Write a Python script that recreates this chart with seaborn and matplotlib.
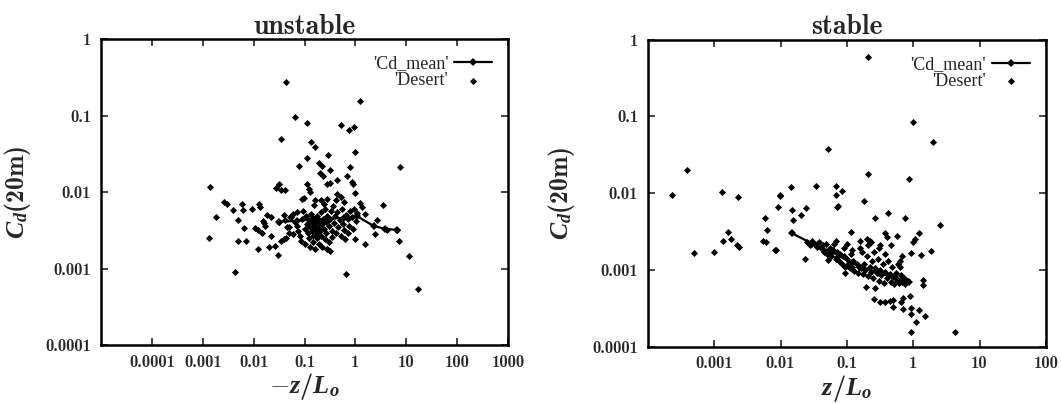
import numpy as np
import pandas as pd
import matplotlib
matplotlib.use('Agg')
import matplotlib.pyplot as plt
import seaborn as sns
from matplotlib.ticker import FixedLocator, FixedFormatter, NullLocator

# unstable case: -z/Lo vs Cd(20m)
unstable_desert = [
    (0.044, 0.278), (1.22, 0.154), (0.066, 0.097), (0.113, 0.079), (0.52, 0.076), (0.75, 0.065),
    (0.95, 0.071), (0.035, 0.050), (0.133, 0.045), (0.16, 0.039),
    (0.113, 0.028), (0.296, 0.031), (0.97, 0.033), (0.077, 0.022), (0.19, 0.024), (0.22, 0.022),
    (0.31, 0.0195), (0.80, 0.021), (7.4, 0.0216),
    (0.20, 0.0177), (0.23, 0.016), (0.28, 0.0129), (0.32, 0.0131), (0.44, 0.0145), (0.69, 0.016),
    (0.86, 0.0135), (0.90, 0.0126),
    (0.032, 0.0129), (0.028, 0.0114), (0.035, 0.0107), (0.041, 0.0107), (0.113, 0.0129), (0.122, 0.011),
    (0.131, 0.010), (0.0014, 0.0116),
    (1.0, 0.0097), (0.44, 0.0095), (0.53, 0.0086), (0.59, 0.0074), (0.42, 0.0078), (0.28, 0.0082),
    (0.24, 0.0070), (0.21, 0.0078), (0.164, 0.0078), (0.152, 0.0067), (0.090, 0.0082), (0.096, 0.0084),
    (3.5, 0.0068),
    (0.0026, 0.0074), (0.0030, 0.0069), (0.0039, 0.0059), (0.0060, 0.0069), (0.0063, 0.0059),
    (0.0094, 0.0061), (0.0127, 0.0070), (0.0133, 0.0064),
    (0.0018, 0.0047), (0.0050, 0.0043), (0.0185, 0.0050), (0.0216, 0.0047), (0.0152, 0.0042),
    (0.0159, 0.0039), (0.0065, 0.0034), (0.0106, 0.0034), (0.0122, 0.0032), (0.0164, 0.0036),
    (0.0148, 0.0029), (0.0216, 0.0027),
    (0.0013, 0.0025), (0.0050, 0.0023), (0.0072, 0.0023), (0.0122, 0.0018), (0.020, 0.0019),
    (0.026, 0.0020), (0.030, 0.0015), (0.034, 0.0023), (0.039, 0.0024), (0.044, 0.0025),
    (0.049, 0.0035), (0.031, 0.0041), (0.042, 0.0043), (0.053, 0.0047), (0.072, 0.0055),
    (1.0, 0.0024), (1.57, 0.0021), (2.4, 0.0028), (4.2, 0.0032), (6.6, 0.0032), (7.1, 0.0023),
    (1.57, 0.0052), (1.22, 0.0071), (1.35, 0.0064), (2.66, 0.0043), (0.28, 0.0018), (0.32, 0.0017),
    (0.0043, 0.00091), (0.65, 0.00084), (17.2, 0.00054), (11.1, 0.00145),
    # dense cluster around 0.1-1
    (0.06, 0.0052), (0.065, 0.0041), (0.07, 0.0036), (0.075, 0.0031), (0.08, 0.0027), (0.085, 0.0023),
    (0.09, 0.0045), (0.095, 0.0057), (0.10, 0.0033), (0.10, 0.0021), (0.105, 0.0048), (0.11, 0.0038),
    (0.115, 0.0029), (0.12, 0.0025), (0.12, 0.0043), (0.13, 0.0035), (0.13, 0.0019), (0.135, 0.0052),
    (0.14, 0.0031), (0.14, 0.0041), (0.145, 0.0027), (0.15, 0.0046), (0.15, 0.0022), (0.155, 0.0036),
    (0.16, 0.0018), (0.16, 0.0033), (0.165, 0.0043), (0.17, 0.0039), (0.175, 0.0029), (0.18, 0.0025),
    (0.18, 0.0048), (0.19, 0.0035), (0.19, 0.0021), (0.20, 0.0042), (0.20, 0.0031), (0.21, 0.0055),
    (0.21, 0.0027), (0.22, 0.0038), (0.22, 0.0019), (0.23, 0.0045), (0.24, 0.0033), (0.25, 0.0024),
    (0.25, 0.0061), (0.26, 0.0041), (0.27, 0.0029), (0.28, 0.0049), (0.28, 0.0018), (0.30, 0.0036),
    (0.30, 0.0022), (0.32, 0.0044), (0.33, 0.0056), (0.34, 0.0031), (0.35, 0.0026), (0.36, 0.0065),
    (0.38, 0.0039), (0.40, 0.0048), (0.42, 0.0029), (0.44, 0.0055), (0.46, 0.0035), (0.50, 0.0043),
    (0.52, 0.0027), (0.55, 0.0060), (0.58, 0.0038), (0.60, 0.0032), (0.62, 0.0024), (0.65, 0.0050),
    (0.70, 0.0044), (0.72, 0.0029), (0.75, 0.0036), (0.80, 0.0056), (0.85, 0.0047), (0.90, 0.0033),
    (0.95, 0.0061), (1.05, 0.0042), (1.10, 0.0053), (0.06, 0.0028), (0.045, 0.0035), (0.05, 0.0029),
    (0.055, 0.0047), (0.04, 0.0050),
]
unstable_mean_x = [0.031, 0.07, 0.15, 0.3, 0.6, 1.1, 2.3, 3.9, 6.7]
unstable_mean_y = [0.0041, 0.0042, 0.0044, 0.0045, 0.0046, 0.0048, 0.0036, 0.0033, 0.0032]

# stable case: z/Lo vs Cd(20m)
stable_desert = [
    (0.21, 0.59), (1.0, 0.084), (2.0, 0.047), (0.052, 0.037), (0.00039, 0.020), (0.00023, 0.0095),
    (0.0013, 0.0102), (0.0023, 0.0089),
    (0.21, 0.018), (0.87, 0.0154), (0.0144, 0.012), (0.034, 0.0122), (0.0097, 0.0095), (0.0098, 0.0092),
    (0.069, 0.0122), (0.069, 0.0095), (0.085, 0.0105), (0.184, 0.0078),
    (0.0093, 0.0066), (0.0148, 0.0061), (0.0153, 0.0045), (0.0203, 0.0052), (0.0242, 0.0064),
    (0.0058, 0.0047), (0.0063, 0.0033), (0.0055, 0.0024), (0.0061, 0.0023), (0.0081, 0.00184),
    (0.0086, 0.0018), (0.0016, 0.0031), (0.00135, 0.0024), (0.0018, 0.0025), (0.0022, 0.0021),
    (0.0024, 0.0020), (0.0010, 0.0017), (0.0005, 0.00165),
    (0.073, 0.0068), (0.071, 0.0065), (0.27, 0.0048), (0.42, 0.0055), (0.75, 0.0047), (2.5, 0.0039),
    (0.114, 0.0031), (0.0236, 0.0014), (0.068, 0.0024), (0.10, 0.0022), (0.225, 0.0024),
    (0.052, 0.00135), (0.072, 0.00146), (0.095, 0.00092), (0.197, 0.00059), (0.26, 0.00042),
    (0.27, 0.00058),
    (0.38, 0.0030), (0.40, 0.0027), (0.56, 0.0028), (1.22, 0.0030), (1.06, 0.0025), (1.0, 0.0023),
    (0.23, 0.0023), (0.32, 0.0021), (0.47, 0.0021), (0.92, 0.00165), (1.33, 0.00157), (1.83, 0.00175),
    (0.67, 0.0015), (0.63, 0.0013), (0.64, 0.0011),
    (1.41, 0.00074), (1.41, 0.00064), (0.89, 0.00045), (0.71, 0.00043), (0.32, 0.00038), (0.37, 0.00038),
    (0.44, 0.00039), (0.49, 0.00040), (0.65, 0.00038), (0.50, 0.00033), (0.69, 0.00031), (0.94, 0.00032),
    (0.94, 0.00027), (1.23, 0.00030), (1.49, 0.00025), (1.1, 0.00021), (0.94, 0.000155), (4.3, 0.000155),
    # dense band along the mean curve
    (0.025, 0.0023), (0.028, 0.0021), (0.030, 0.0024), (0.033, 0.0022), (0.035, 0.0020), (0.038, 0.0023),
    (0.040, 0.0019), (0.043, 0.0021), (0.045, 0.0017), (0.048, 0.0022), (0.050, 0.0016), (0.055, 0.0019),
    (0.058, 0.0015), (0.062, 0.0018), (0.065, 0.0022), (0.068, 0.0014), (0.070, 0.0017), (0.075, 0.0013),
    (0.080, 0.0016), (0.085, 0.0012), (0.090, 0.0015), (0.095, 0.0011), (0.10, 0.0014), (0.105, 0.0012),
    (0.11, 0.00105), (0.115, 0.0016), (0.12, 0.0011), (0.125, 0.0013), (0.13, 0.00098), (0.14, 0.0012),
    (0.145, 0.00092), (0.15, 0.0011), (0.16, 0.0019), (0.165, 0.00105), (0.17, 0.0017), (0.175, 0.00088),
    (0.18, 0.0012), (0.19, 0.0010), (0.20, 0.0015), (0.205, 0.00082), (0.21, 0.0021), (0.22, 0.0011),
    (0.23, 0.00095), (0.24, 0.0013), (0.25, 0.00078), (0.26, 0.0017), (0.27, 0.00105), (0.28, 0.0009),
    (0.29, 0.0014), (0.30, 0.00072), (0.31, 0.0019), (0.32, 0.0010), (0.33, 0.00085), (0.35, 0.0012),
    (0.36, 0.00068), (0.37, 0.0016), (0.38, 0.00095), (0.40, 0.00078), (0.42, 0.0013), (0.44, 0.00088),
    (0.46, 0.0007), (0.48, 0.0011), (0.50, 0.0008), (0.52, 0.00065), (0.55, 0.0009), (0.58, 0.00072),
    (0.60, 0.0012), (0.62, 0.00068), (0.65, 0.00085), (0.68, 0.0007), (0.72, 0.00078), (0.75, 0.00066),
    (0.78, 0.0007), (0.82, 0.00072), (0.16, 0.0024), (0.20, 0.0025), (0.12, 0.0018), (0.09, 0.0019),
]
stable_mean_x = [0.0148, 0.03, 0.06, 0.12, 0.3, 0.55, 0.85]
stable_mean_y = [0.0030, 0.0022, 0.0017, 0.00122, 0.00091, 0.00078, 0.00070]

y_ticks = [1e-4, 1e-3, 1e-2, 1e-1, 1]
y_ticklabels = ['0.0001', '0.001', '0.01', '0.1', '1']
unstable_xticks = [1e-4, 1e-3, 1e-2, 1e-1, 1, 10, 100, 1000]
unstable_xticklabels = ['0.0001', '0.001', '0.01', '0.1', '1', '10', '100', '1000']
stable_xticks = [1e-3, 1e-2, 1e-1, 1, 10, 100]
stable_xticklabels = ['0.001', '0.01', '0.1', '1', '10', '100']

sns.set_style('ticks')
plt.rcParams['mathtext.fontset'] = 'custom'
plt.rcParams['mathtext.rm'] = 'cmb10'
plt.rcParams['mathtext.bf'] = 'cmb10'
plt.rcParams['mathtext.it'] = 'Liberation Serif:italic:bold'

fig = plt.figure(figsize=(10.61, 4.04), dpi=100)
ax1 = fig.add_axes([0.0952, 0.146, 0.3836, 0.757])
ax2 = fig.add_axes([0.6107, 0.142, 0.375, 0.760])

panels = [
    (ax1, unstable_desert, unstable_mean_x, unstable_mean_y, (1e-5, 1e3),
     unstable_xticks, unstable_xticklabels, 'unstable', r'$-z/L_o$', -0.168),
    (ax2, stable_desert, stable_mean_x, stable_mean_y, (1e-4, 100),
     stable_xticks, stable_xticklabels, 'stable', r'$z/L_o$', -0.178),
]

for ax, desert, mx, my, xlim, xt, xtl, title, xlab, ylab_x in panels:
    df = pd.DataFrame(desert, columns=['zL', 'Cd'])
    mean_df = pd.DataFrame({'zL': mx, 'Cd': my})
    sns.lineplot(data=mean_df, x='zL', y='Cd', ax=ax, color='black', lw=1.6,
                 marker='D', markersize=3.8, markeredgewidth=0, label="'Cd_mean'")
    sns.scatterplot(data=df, x='zL', y='Cd', ax=ax, color='black', marker='D',
                    s=13, linewidth=0, label="'Desert'")
    ax.set_xscale('log')
    ax.set_yscale('log')
    ax.set_xlim(*xlim)
    ax.set_ylim(1e-4, 1)
    ax.xaxis.set_major_locator(FixedLocator(xt))
    ax.xaxis.set_major_formatter(FixedFormatter(xtl))
    ax.yaxis.set_major_locator(FixedLocator(y_ticks))
    ax.yaxis.set_major_formatter(FixedFormatter(y_ticklabels))
    ax.xaxis.set_minor_locator(NullLocator())
    ax.yaxis.set_minor_locator(NullLocator())
    ax.tick_params(which='major', direction='in', top=True, right=True,
                   length=5, width=1.2, pad=7, labelsize=12)
    for lbl in ax.get_xticklabels() + ax.get_yticklabels():
        lbl.set_fontfamily('cmb10')
    for sp in ax.spines.values():
        sp.set_linewidth(1.8)
        sp.set_color('black')
    ax.set_title(title, fontfamily='cmb10', fontsize=20, pad=4)
    ax.set_xlabel(xlab, fontsize=19, labelpad=1)
    ax.set_ylabel(r'$C_d$(20m)', fontsize=18.5, fontfamily='cmb10')
    ax.yaxis.set_label_coords(ylab_x, 0.5)
    leg = ax.legend(loc='upper right', frameon=False, markerfirst=False,
                    handlelength=2.1, handletextpad=0.3, labelspacing=0.0,
                    borderaxespad=0.5, prop={'family': 'Liberation Serif', 'size': 13})

fig.savefig('out.png', dpi=100)
